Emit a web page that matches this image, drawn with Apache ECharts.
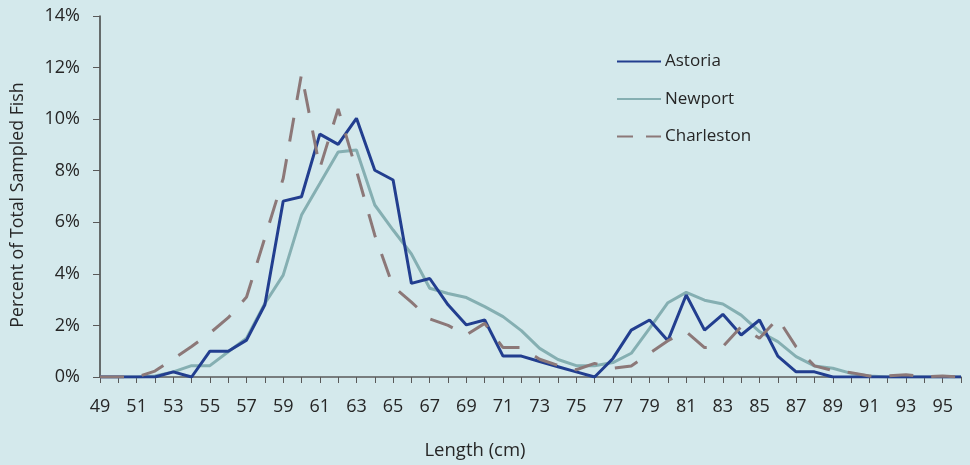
<!DOCTYPE html>
<html><head><meta charset="utf-8">
<script src="https://cdn.jsdelivr.net/npm/echarts@6/dist/echarts.min.js"></script>
<style>html,body{margin:0;padding:0;background:#D4E9EC;}#c{width:970px;height:465px;}</style>
</head><body><div id="c"></div>
<script>
const lengths = [49,50,51,52,53,54,55,56,57,58,59,60,61,62,63,64,65,66,67,68,69,70,71,72,73,74,75,76,77,78,79,80,81,82,83,84,85,86,87,88,89,90,91,92,93,94,95,96];
const astoria = [0,0,0,0,0.2,0,1.0,1.0,1.43,2.8,6.82,6.99,9.42,9.02,10.03,8.02,7.64,3.63,3.82,2.8,2.02,2.21,0.81,0.81,0.6,0.4,0.2,0,0.72,1.82,2.21,1.41,3.18,1.82,2.43,1.63,2.21,0.81,0.2,0.2,0,0,0,0,0,0,0,0];
const newport = [0,0,0,0.04,0.2,0.44,0.44,0.98,1.5,2.85,3.95,6.28,7.5,8.73,8.8,6.67,5.7,4.77,3.44,3.24,3.08,2.73,2.34,1.8,1.11,0.68,0.44,0.44,0.56,0.92,1.89,2.88,3.28,2.98,2.83,2.4,1.76,1.37,0.79,0.43,0.34,0.14,0.04,0,0,0,0,0];
const charleston = [0,0,0,0.23,0.7,1.18,1.7,2.3,3.1,5.4,7.7,11.75,8.1,10.4,8.0,5.5,3.51,2.9,2.25,2.0,1.63,2.08,1.14,1.14,0.69,0.45,0.28,0.53,0.34,0.43,0.92,1.41,1.76,1.14,1.18,1.95,1.5,2.27,1.17,0.43,0.25,0.17,0.04,0.04,0.09,0,0.04,0];
const yTicks = [0,2,4,6,8,10,12,14];
const xTitle = 'Length (cm)';
const yTitle = 'Percent of Total Sampled Fish';

const chart = echarts.init(document.getElementById('c'));
const font = '"Open Sans", "Noto Sans", sans-serif';
chart.setOption({
  backgroundColor: '#D4E9EC',
  animation: false,
  textStyle: {fontFamily: font},
  grid: {left: 100, right: 9, top: 16, bottom: 88},
  legend: {
    orient: 'vertical', left: 616, top: 53, padding: 0, itemWidth: 44, itemHeight: 14, itemGap: 20.5,
    itemStyle: {opacity: 0},
    textStyle: {fontSize: 17, color: '#262626', fontFamily: font, lineHeight: 14, padding: [0,0,0,-1]},
    data: [
      {name: 'Astoria'},
      {name: 'Newport'},
      {name: 'Charleston', lineStyle: {type: [16, 13]}}
    ]
  },
  graphic: [
    {type: 'text', x: 475, y: 451,
      style: {text: xTitle, fontSize: 18.5, fill: '#262626', fontFamily: font, align: 'center', verticalAlign: 'middle'}},
    {type: 'text', rotation: Math.PI / 2, x: 18, y: 205,
      style: {text: yTitle, fontSize: 17.8, fill: '#262626', fontFamily: font, align: 'center', verticalAlign: 'middle'}}
  ],
  xAxis: {
    type: 'category', data: lengths, boundaryGap: false,
    axisLine: {lineStyle: {color: '#595959', width: 1.5}},
    axisTick: {show: true, interval: 0, length: 6, lineStyle: {color: '#595959'}},
    axisLabel: {interval: 1, fontSize: 18, color: '#262626', margin: 21}
  },
  yAxis: {
    type: 'value', min: 0, max: 14, interval: 2,
    splitLine: {show: false},
    axisLine: {show: true, lineStyle: {color: '#404040', width: 1.5}},
    axisTick: {show: true, length: 7, lineStyle: {color: '#595959'}},
    axisLabel: {fontSize: 18, color: '#262626', margin: 20, formatter: v => yTicks.includes(v) ? v + '%' : ''}
  },
  series: [
    {name: 'Astoria', type: 'line', data: astoria, symbol: 'none', z: 3,
     lineStyle: {color: '#223E8F', width: 3}, itemStyle: {color: '#223E8F'}},
    {name: 'Newport', type: 'line', data: newport, symbol: 'none', z: 2,
     lineStyle: {color: '#85AFB2', width: 3}, itemStyle: {color: '#85AFB2'}},
    {name: 'Charleston', type: 'line', data: charleston, symbol: 'none', z: 4,
     lineStyle: {color: '#8C7878', width: 3, type: [24, 18]}, itemStyle: {color: '#8C7878'}}
  ]
});
</script></body></html>
